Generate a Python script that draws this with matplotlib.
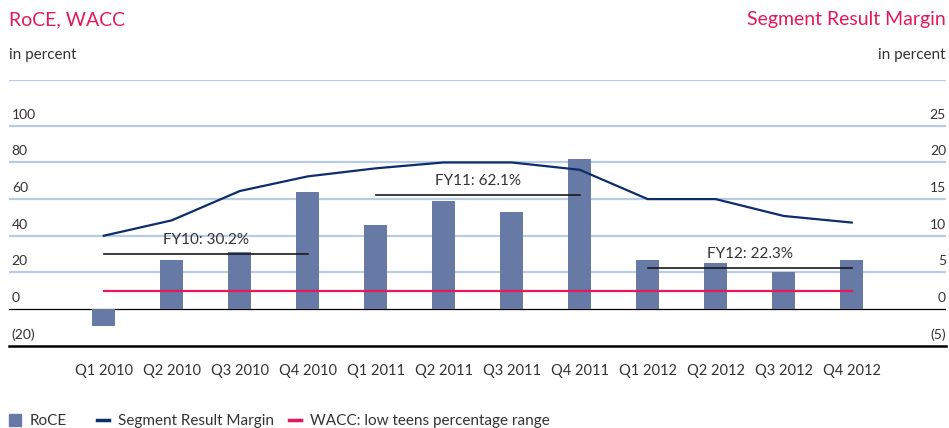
import matplotlib.pyplot as plt
from matplotlib.patches import Patch
from matplotlib.lines import Line2D

plt.rcParams['font.family'] = ['Lato', 'DejaVu Sans']

# Data
quarters = ["Q1 2010", "Q2 2010", "Q3 2010", "Q4 2010",
            "Q1 2011", "Q2 2011", "Q3 2011", "Q4 2011",
            "Q1 2012", "Q2 2012", "Q3 2012", "Q4 2012"]
roce = [-9, 27, 31, 64, 46, 59, 53, 82, 27, 25, 20, 27]
segment_margin = [10, 12.1, 16.1, 18.1, 19.2, 20, 20, 19, 15, 15, 12.7, 11.8]
wacc = [10] * 12
fy_labels = ["FY10: 30.2%", "FY11: 62.1%", "FY12: 22.3%"]
fy_values = [30.2, 62.1, 22.3]

left_ticks = [-20, 0, 20, 40, 60, 80, 100]
left_labels = ["(20)", "0", "20", "40", "60", "80", "100"]
right_ticks = [-5, 0, 5, 10, 15, 20, 25]
right_labels = ["(5)", "0", "5", "10", "15", "20", "25"]

pink = "#e5195a"
bar_col = "#6779a5"
navy = "#0d2d6c"
grid_col = "#b7cde4"
txt = "#333333"

fig = plt.figure(figsize=(9.49, 4.28), dpi=100)
ax = fig.add_axes([9 / 949, 1 - 345.7 / 428, 937 / 949, 265.7 / 428])
ax2 = ax.twinx()

x = list(range(len(quarters)))
ax.set_xlim(-1.393, 12.387)
ax.set_ylim(-20, 125)
ax2.set_ylim(-5, 31.25)

# grid lines
for v in [20, 40, 60, 80, 100, 125]:
    ax.axhline(v, color=grid_col, lw=1.6, zorder=0)
ax.axhline(0, color="black", lw=0.9, zorder=1)
ax.axhline(-20, color="black", lw=1.8, zorder=1, clip_on=False)

ax.bar(x, roce, width=0.34, color=bar_col, zorder=2)
ax.plot(x, wacc, color=pink, lw=1.6, zorder=3)
ax2.plot(x, segment_margin, color=navy, lw=1.6, zorder=3)

# fiscal year averages
for k in range(3):
    ax.plot([4 * k, 4 * k + 3], [fy_values[k]] * 2, color="#1a1a1a", lw=1.2, zorder=4)
    ax.annotate(fy_labels[k], xy=(4 * k + 1.5, fy_values[k]), xytext=(0, 10),
                textcoords="offset points", ha="center", va="center",
                fontsize=11, color=txt)

for a in (ax, ax2):
    for s in a.spines.values():
        s.set_visible(False)
    a.set_yticks([])

ax.set_xticks(x)
ax.set_xticklabels(quarters, fontsize=10.5, color=txt)
ax.tick_params(axis="x", length=0, pad=13)

for v, lab in zip(left_ticks, left_labels):
    ax.annotate(lab, xy=(0, v), xycoords=("axes fraction", "data"), xytext=(2, 8),
                textcoords="offset points", ha="left", va="center", fontsize=10, color=txt)
for v, lab in zip(right_ticks, right_labels):
    ax2.annotate(lab, xy=(1, v), xycoords=("axes fraction", "data"), xytext=(0, 8),
                 textcoords="offset points", ha="right", va="center", fontsize=10, color=txt)

# titles
fig.text(9 / 949, 1 - 20 / 428, "RoCE, WACC", color=pink, fontsize=14, va="center")
fig.text(946 / 949, 1 - 20 / 428, "Segment Result Margin", color=pink, fontsize=14,
         va="center", ha="right")
fig.text(9 / 949, 1 - 55 / 428, "in percent", color=txt, fontsize=11, va="center")
fig.text(946 / 949, 1 - 55 / 428, "in percent", color=txt, fontsize=11, va="center", ha="right")

# legend
items = [
    (Patch(color=bar_col), "RoCE", 9 / 949),
    (Line2D([], [], color=navy, lw=2.5), "Segment Result Margin", 97 / 949),
    (Line2D([], [], color=pink, lw=2.5), "WACC: low teens percentage range", 289 / 949),
]
for h, lab, xpos in items:
    leg = fig.legend([h], [lab], loc="center left", bbox_to_anchor=(xpos, 1 - 421 / 428),
                     frameon=False, fontsize=11, handlelength=0.8, handleheight=0.8,
                     handletextpad=0.55, borderaxespad=0, borderpad=0)
    for t in leg.get_texts():
        t.set_color(txt)

fig.savefig("out.png", dpi=100)
